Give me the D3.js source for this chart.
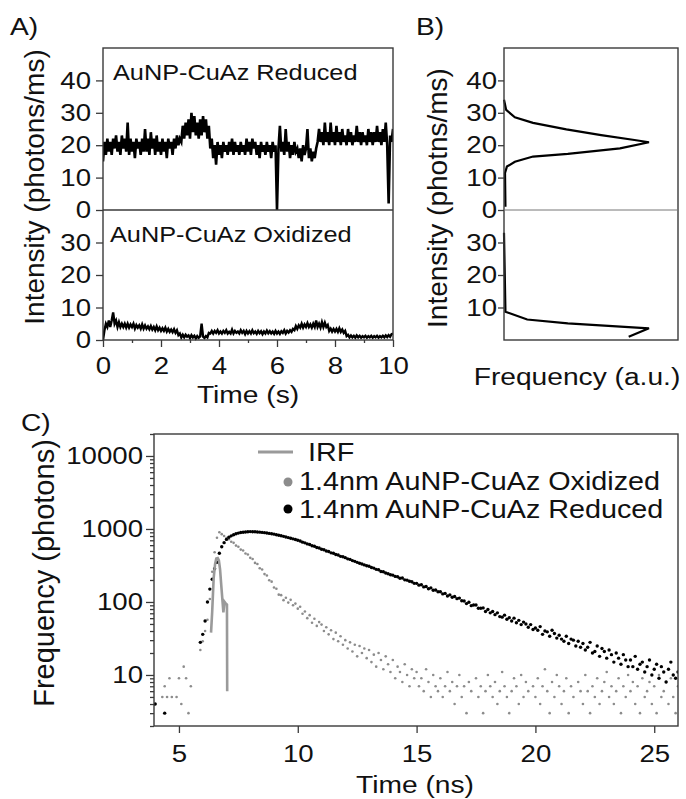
<!DOCTYPE html>
<html>
<head>
<meta charset="utf-8">
<script src="https://cdn.jsdelivr.net/npm/d3@7"></script>
<style>
body { margin: 0; background: #fff; }
svg text { font-family: "Liberation Sans", Arial, sans-serif; fill: #111; }
</style>
</head>
<body>
<svg id="fig" width="686" height="799"></svg>
<script>

// A) intensity traces, photons/ms, evenly sampled over the 10 s record
var traceSpan = [0, 10];
var reducedTrace = [
    15,21,17,22,18,21,17,22,19,23,18,21,17,23,19,22,18,27,17,22,
    18,21,16,22,19,21,17,22,18,25,18,22,17,24,19,22,17,23,18,21,
    17,22,18,21,16,22,19,21,17,22,19,23,20,22,21,26,22,27,23,28,
    22,30,24,29,23,27,22,28,23,29,24,28,22,26,19,22,16,20,14,21,
    17,20,16,21,18,20,17,21,18,22,17,21,18,20,17,21,18,20,17,22,
    18,21,17,22,19,21,17,20,16,21,18,20,17,21,18,20,16,21,18,20,
    0,19,26,18,21,17,25,18,21,16,20,17,21,18,19,16,19,15,20,17,
    19,25,16,19,15,18,16,19,21,25,21,24,20,27,21,24,20,27,21,24,
    20,26,21,24,20,25,21,23,20,25,21,24,20,23,21,26,21,24,20,24,
    21,23,20,25,21,24,20,24,21,26,21,24,20,25,21,27,20,2,23,21,
    25
];
var oxidizedTrace = [
    0,3,5,4,6,4,6,8.5,5,6,4,5.5,4,5,4,5,3.8,5,3.8,4.8,
    4,5,3.5,4.6,3.8,4.5,3.5,4.8,3.5,4.5,3.5,4.2,3.3,4.3,3.2,4,3,4.2,3,3.8,
    2.8,3.6,2.8,3.8,2.6,3.4,2.5,3.2,2.4,3.3,2.2,3,1.5,2,0.8,1.6,0.8,1.6,1,1.4,
    0.6,1.5,0.8,1.3,0.5,1.2,0.7,1.1,5,1,0.6,1.2,0.8,2.2,2,2.8,2,2.8,2.2,3,
    2,2.6,2,2.8,2.2,3,2,2.5,2,3.2,2,2.8,2.2,2.6,2,3,2.2,2.8,1.8,2.8,
    2,2.7,2,3,2.1,2.6,1.9,2.8,2.1,2.7,1.8,2.6,2,2.9,2.1,2.7,2,2.6,1.9,2.8,
    2,2.6,1.9,2.7,2.2,3,2,2.8,2.3,3,2.5,3.4,3,4.3,3.4,4.5,3.8,5,3.8,4.8,
    4,5.2,4,4.8,3.8,5,4,6,4,5,3.8,5.5,4,5.3,4,4.6,2.8,3.5,2.6,3.4,
    2.6,3.4,2.5,3.6,2.5,3.2,2.2,2.8,1.2,1.6,0.8,1.4,0.8,1.3,0.7,1.4,0.8,1.3,0.7,1.2,
    0.8,1.3,0.7,1.2,0.8,1.3,0.7,1.2,0.8,1.3,0.7,1.2,0.8,1.3,0.8,1.4,0.9,1.5,1,1.8,
    2
];

// B) intensity histograms
var histRedIntensity = [34, 30.9, 28.6, 26.9, 24.9, 23.1, 21.6, 20.9, 19, 17.3, 16.5, 14.9, 13.4, 11.4, 1];
var histRedFreq      = [0, 0.015, 0.075, 0.2, 0.43, 0.67, 0.9, 1.0, 0.8, 0.44, 0.2, 0.075, 0.02, 0.007, 0.01];
var histOxIntensity  = [33, 8.7, 6.3, 5.1, 3.6, 1.0];
var histOxFreq       = [0, 0.01, 0.16, 0.44, 1.0, 0.86];

// C) lifetime decays, photons per 0.1 ns bin
var binWidth = 0.1;
var irfTime   = [6.35, 6.4, 6.46, 6.52, 6.57, 6.63, 6.68, 6.73, 6.78, 6.83, 6.87, 6.92, 6.97, 7.02, 7.03];
var irfCounts = [38, 75, 210, 330, 395, 400, 370, 280, 170, 105, 72, 100, 95, 92, 6];

var oxStart = 4.2;
var oxCounts = [
    null,5,7,5,9,5,null,5,
    9,4,13,9,3,7,null,null,null,22,
    29,40,57,110,260,480,760,900,850,800,
    752,722,668,646,592,571,522,508,462,447,
    402,388,343,331,290,279,241,231,198,190,
    158,152,126,124,106,114,98,107,90,95,
    81,86,69,74,60,66,52,59,47,53,
    49,40,45,36,41,31,38,29,34,26,
    30,23,28,21,26,18,25,20,23,17,
    22,15,19,13,20,16,12,18,14,11,
    16,9,13,11,8,14,10,7,12,9,
    11,7,9,6,12,8,5,10,7,6,
    9,5,7,11,6,8,4,7,10,5,
    7,3,8,6,null,9,5,7,3,6,
    10,7,5,8,4,6,11,7,5,3,
    6,9,7,4,10,5,8,6,null,7,
    5,9,4,7,12,6,3,8,5,10,
    7,4,6,9,3,7,5,null,8,6,
    4,10,6,3,7,5,9,4,6,8,
    11,5,7,4,6,9,3,7,5,10,
    6,8,4,7,3,9,5,6,8,4,
    7,3,10,5,6,8,4,9,5,3,
    7
];

var redStart = 5.9;
var redCounts = [
    28,36,55,100,150,205,285,350,465,570,650,
    720,770,805,835,860,878,893,903,910,916,
    920,918,915,910,905,898,890,880,870,860,
    850,835,822,808,792,778,762,748,732,716,
    700,683,660,646,625,612,590,579,558,548,
    528,519,499,492,471,465,446,440,422,417,
    405,390,383,369,360,349,340,331,322,313,
    308,297,291,280,276,262,259,250,244,236,
    233,224,222,211,213,201,199,192,189,180,
    180,170,172,161,163,152,156,145,146,138,
    138,129,131,121,125,116,119,111,113,104,
    103,95,99,89,91,91,82,82,83,74,
    79,71,74,67,71,63,62,66,58,61,
    55,60,52,56,49,53,50,45,49,42,
    44,41,46,36,40,39,34,41,37,32,
    35,31,29,34,27,31,30,25,29,24,
    27,22,24,28,20,21,25,18,23,21,
    17,22,19,15,20,17,14,19,16,13,
    16,13,18,12,14,15,11,13,16,10,
    12,14,9,13,11,8,12,15,10,9,
    11
];
var redEarlyTime = [4.0, 4.4];
var redEarlyCounts = [4, 3];

var legendLabels = ["IRF", "1.4nm AuNP-CuAz Oxidized", "1.4nm AuNP-CuAz Reduced"];

var frameColor = "#3a3a3a",
    grey = "#8c8c8c",
    irfGrey = "#9a9a9a";

// horizontal text in the figure is a little wider than the font
var stretch = 1.15;

var svg = d3.select("#fig");
var defs = svg.append("defs");

function clip(id, x0, y0, x1, y1) {
    defs.append("clipPath").attr("id", id)
        .append("rect")
            .attr("x", x0).attr("y", y0)
            .attr("width", x1 - x0).attr("height", y1 - y0);
    return "url(#" + id + ")";
}

function frame(x0, y0, x1, y1) {
    svg.append("rect")
        .attr("x", x0).attr("y", y0)
        .attr("width", x1 - x0).attr("height", y1 - y0)
        .attr("fill", "none")
        .attr("stroke", frameColor)
        .attr("stroke-width", 1.4);
}

function styleAxis(g, size) {
    g.select(".domain").remove();
    g.selectAll(".tick line").attr("stroke", frameColor).attr("stroke-width", 1.3);
    g.selectAll(".tick text")
        .attr("fill", "#111")
        .attr("x", function() { return (+d3.select(this).attr("x") || 0) / stretch; })
        .attr("transform", "scale(" + stretch + ",1)")
        .style("font-size", size + "px")
        .style("font-family", '"Liberation Sans", Arial, sans-serif');
}

function label(txt, x, y, size, anchor, rot) {
    var t = svg.append("text")
        .text(txt)
        .style("font-size", size + "px")
        .attr("text-anchor", anchor || "start");
    if (rot) t.attr("transform", "translate(" + x + "," + y + ") rotate(-90)");
    else t.attr("transform", "translate(" + x + "," + y + ") scale(" + stretch + ",1)");
    return t;
}

// ---------------- panel A ----------------
var xA = d3.scaleLinear().domain(traceSpan).range([103, 393]);
var yAtop = d3.scaleLinear().domain([0, 50]).range([210, 48]);
var yAbot = d3.scaleLinear().domain([0, 40]).range([340, 210]);

function traceLine(values, y) {
    var dt = (traceSpan[1] - traceSpan[0]) / (values.length - 1);
    return d3.line()
        .x(function(d, i) { return xA(traceSpan[0] + i * dt); })
        .y(function(d) { return y(d); })(values);
}

svg.append("path")
    .attr("d", traceLine(reducedTrace, yAtop))
    .attr("fill", "none").attr("stroke", "#000").attr("stroke-width", 2.6)
    .attr("clip-path", clip("clipAtop", 103, 48, 393, 210));

svg.append("path")
    .attr("d", traceLine(oxidizedTrace, yAbot))
    .attr("fill", "none").attr("stroke", "#000").attr("stroke-width", 2.4)
    .attr("clip-path", clip("clipAbot", 103, 210, 393, 341));

frame(103, 48, 393, 340);
svg.append("line")
    .attr("x1", 103).attr("x2", 393).attr("y1", 210).attr("y2", 210)
    .attr("stroke", frameColor).attr("stroke-width", 1.4);

svg.append("g").attr("transform", "translate(103,0)")
    .call(d3.axisLeft(yAtop).tickValues([0, 10, 20, 30, 40]).tickSize(7).tickPadding(5))
    .call(styleAxis, 24);
svg.append("g").attr("transform", "translate(103,0)")
    .call(d3.axisLeft(yAbot).tickValues([0, 10, 20, 30]).tickSize(7).tickPadding(5))
    .call(styleAxis, 24);
svg.append("g").attr("transform", "translate(0,340)")
    .call(d3.axisBottom(xA).tickValues([0, 2, 4, 6, 8, 10]).tickSize(7).tickPadding(10))
    .call(styleAxis, 24);
svg.append("g").attr("transform", "translate(0,340)")
    .call(d3.axisBottom(xA).tickValues([1, 3, 5, 7, 9]).tickSize(3).tickFormat(""))
    .call(styleAxis, 24);

label("AuNP-CuAz Reduced", 113, 80, 22);
label("AuNP-CuAz Oxidized", 110, 242, 22);
label("Time (s)", 248, 403, 24.5, "middle");
label("Intensity (photons/ms)", 44, 187, 28, "middle", true);
label("A)", 10, 35, 24.5);

// ---------------- panel B ----------------
var xB = d3.scaleLinear().domain([0, 1.2]).range([504, 678]);

var histLine = function(y) {
    return d3.line()
        .x(function(d) { return xB(d[1]); })
        .y(function(d) { return y(d[0]); });
};

svg.append("path")
    .attr("d", histLine(yAtop)(d3.zip(histRedIntensity, histRedFreq)))
    .attr("fill", "none").attr("stroke", "#000").attr("stroke-width", 2.2);
svg.append("path")
    .attr("d", histLine(yAbot)(d3.zip(histOxIntensity, histOxFreq)))
    .attr("fill", "none").attr("stroke", "#000").attr("stroke-width", 2.2);

frame(504, 48, 678, 340);
svg.append("line")
    .attr("x1", 504).attr("x2", 678).attr("y1", 210).attr("y2", 210)
    .attr("stroke", "#777").attr("stroke-width", 1);

svg.append("g").attr("transform", "translate(504,0)")
    .call(d3.axisLeft(yAtop).tickValues([0, 10, 20, 30, 40]).tickSize(6).tickPadding(1))
    .call(styleAxis, 24);
svg.append("g").attr("transform", "translate(504,0)")
    .call(d3.axisLeft(yAbot).tickValues([10, 20, 30]).tickSize(6).tickPadding(1))
    .call(styleAxis, 24);

label("Frequency (a.u.)", 577, 385, 24.5, "middle");
label("Intensity (photns/ms)", 447, 198, 28, "middle", true);
label("B)", 416, 35, 24.5);

// ---------------- panel C ----------------
var xC = d3.scaleLinear().domain([3.95, 26]).range([154, 678]);
var yC = d3.scaleLog().domain([2, 20000]).range([726, 434]);
var clipC = clip("clipC", 154, 434, 678, 726);

var oxPts = oxCounts.map(function(v, i) { return [oxStart + i * binWidth, v]; })
    .filter(function(d) { return d[1] != null; });
var redPts = redCounts.map(function(v, i) { return [redStart + i * binWidth, v]; })
    .concat(d3.zip(redEarlyTime, redEarlyCounts));

var dots = svg.append("g").attr("clip-path", clipC);

dots.selectAll("circle.ox")
    .data(oxPts)
    .enter().append("circle")
        .attr("class", "ox")
        .attr("cx", function(d) { return xC(d[0]); })
        .attr("cy", function(d) { return yC(d[1]); })
        .attr("r", 1.3)
        .attr("fill", grey);

dots.selectAll("circle.red")
    .data(redPts)
    .enter().append("circle")
        .attr("class", "red")
        .attr("cx", function(d) { return xC(d[0]); })
        .attr("cy", function(d) { return yC(d[1]); })
        .attr("r", 1.7)
        .attr("fill", "#000");

dots.append("path")
    .attr("d", d3.line()
        .x(function(d) { return xC(d[0]); })
        .y(function(d) { return yC(d[1]); })(d3.zip(irfTime, irfCounts)))
    .attr("fill", "none").attr("stroke", irfGrey).attr("stroke-width", 2.6);

frame(154, 434, 678, 726);

var majorC = [10, 100, 1000, 10000];
svg.append("g").attr("transform", "translate(154,0)")
    .call(d3.axisLeft(yC).tickValues(majorC).tickSize(8).tickPadding(3).tickFormat(d3.format("d")))
    .call(styleAxis, 24);
svg.append("g").attr("transform", "translate(154,0)")
    .call(d3.axisLeft(yC)
        .tickValues(yC.ticks().filter(function(v) { return majorC.indexOf(v) < 0; }))
        .tickSize(4).tickFormat(""))
    .call(styleAxis, 24);
svg.append("g").attr("transform", "translate(0,726)")
    .call(d3.axisBottom(xC).tickValues([5, 10, 15, 20, 25]).tickSize(7).tickPadding(12))
    .call(styleAxis, 24);

label("Time (ns)", 415, 793, 24.5, "middle");
label("Frequency (photons)", 54, 573, 29, "middle", true);
label("C)", 21, 431, 24.5);

// legend
svg.append("line")
    .attr("x1", 258).attr("x2", 293).attr("y1", 452).attr("y2", 452)
    .attr("stroke", irfGrey).attr("stroke-width", 3);
svg.append("circle").attr("cx", 288).attr("cy", 482).attr("r", 4.5).attr("fill", grey);
svg.append("circle").attr("cx", 288).attr("cy", 509).attr("r", 4.5).attr("fill", "#000");
label(legendLabels[0], 308, 461, 25);
label(legendLabels[1], 299, 490, 25);
label(legendLabels[2], 299, 518, 25);

</script>
</body>
</html>
